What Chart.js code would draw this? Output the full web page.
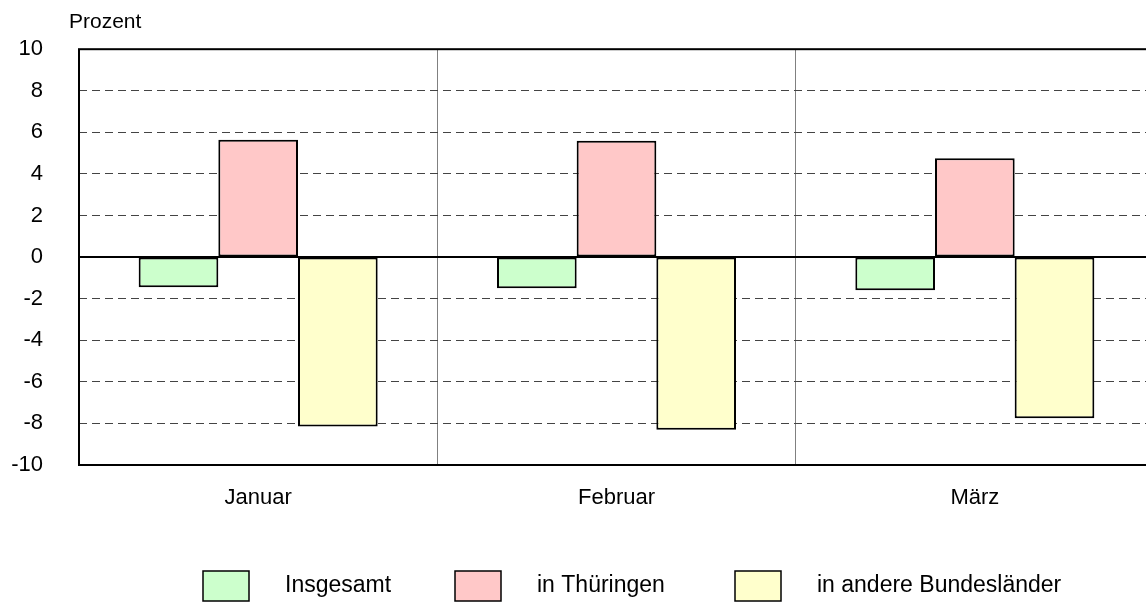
<!DOCTYPE html>
<html>
<head>
<meta charset="utf-8">
<script src="https://cdn.jsdelivr.net/npm/chart.js@4/dist/chart.umd.min.js"></script>
<style>
  html, body { margin: 0; padding: 0; background: #fff; overflow: hidden; }
  #wrap { width: 1160px; height: 603px; }
</style>
</head>
<body>
<div id="wrap"><canvas id="myChart" width="1160" height="603"></canvas></div>
<script>
// Monate und Werte (Prozent)
const months = ["Januar", "Februar", "März"];
const insgesamt = [-1.45, -1.5, -1.6];
const thueringen = [5.65, 5.6, 4.75];
const andere = [-8.15, -8.3, -7.75];
const yTicks = [-10, -8, -6, -4, -2, 0, 2, 4, 6, 8, 10];

const font = "'Liberation Sans', Arial, sans-serif";

// Rahmen, Nulllinie, Einheit und Legende selbst zeichnen
const extras = {
    id: "extras",
    afterDatasetsDraw(chart) {
        const ctx = chart.ctx;
        const a = chart.chartArea;
        const y0 = chart.scales.y.getPixelForValue(0);
        ctx.save();
        ctx.strokeStyle = "#000";
        ctx.lineWidth = 2;
        ctx.setLineDash([]);
        ctx.beginPath();
        ctx.moveTo(a.left, y0);
        ctx.lineTo(a.right, y0);
        ctx.stroke();
        ctx.strokeRect(a.left, a.top, a.right - a.left, a.bottom - a.top);

        ctx.fillStyle = "#000";
        ctx.font = "21px " + font;
        ctx.textBaseline = "middle";
        ctx.textAlign = "left";
        ctx.fillText("Prozent", 69, 22);

        // Legende
        ctx.font = "23px " + font;
        const boxX = [203, 455, 735];
        chart.data.datasets.forEach((ds, i) => {
            ctx.fillStyle = ds.backgroundColor;
            ctx.fillRect(boxX[i], 571, 46, 30);
            ctx.lineWidth = 1.5;
            ctx.strokeStyle = "#000";
            ctx.strokeRect(boxX[i], 571, 46, 30);
            ctx.fillStyle = "#000";
            ctx.fillText(ds.label, boxX[i] + 82, 586);
        });
        ctx.restore();
    }
};

new Chart("myChart", {
    type: "bar",
    data: {
        labels: months,
        datasets: [
            { label: "Insgesamt", data: insgesamt, backgroundColor: "#ccffcc" },
            { label: "in Thüringen", data: thueringen, backgroundColor: "#ffc8c8" },
            { label: "in andere Bundesländer", data: andere, backgroundColor: "#ffffcc" }
        ]
    },
    options: {
        responsive: false,
        animation: false,
        layout: { padding: { top: 49, left: 0, right: 6, bottom: 0 } },
        datasets: {
            bar: {
                borderColor: "#000",
                borderWidth: 2,
                borderSkipped: false,
                categoryPercentage: 0.667,
                barPercentage: 1
            }
        },
        plugins: {
            legend: { display: false },
            tooltip: { enabled: false }
        },
        scales: {
            x: {
                grid: { color: "#808080", lineWidth: 1, drawTicks: false },
                border: { display: false },
                ticks: { color: "#000", font: { size: 22, family: font }, padding: 20 },
                afterFit(scale) { scale.height = 138; }
            },
            y: {
                min: -10,
                max: 10,
                afterBuildTicks(scale) { scale.ticks = yTicks.map(v => ({ value: v })); },
                grid: {
                    color: (c) => (c.tick && (c.tick.value === 0 || Math.abs(c.tick.value) === 10)) ? "rgba(0,0,0,0)" : "#444",
                    lineWidth: 1,
                    drawTicks: false
                },
                border: { display: false, dash: [8, 5] },
                ticks: { color: "#000", font: { size: 22, family: font }, padding: 36 },
                afterFit(scale) { scale.width = 79; }
            }
        }
    },
    plugins: [extras]
});
</script>
</body>
</html>
